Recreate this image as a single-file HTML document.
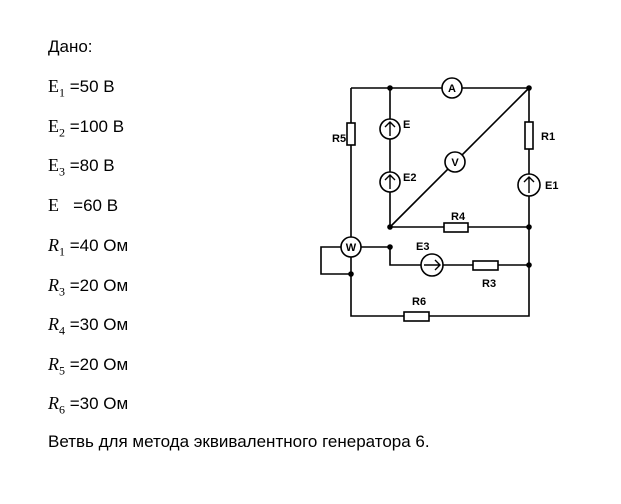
<!DOCTYPE html>
<html><head><meta charset="utf-8"><style>
body{margin:0;width:621px;height:504px;background:#fff;position:relative;font-family:"Liberation Sans",sans-serif;font-size:17px;color:#000}
.t{position:absolute;left:48px;white-space:nowrap}
.m{font-family:"Liberation Serif",serif;font-size:18px}
sub{font-size:12px;font-family:"Liberation Serif",serif}
</style></head><body>
<div class="t" style="top:37px">Дано:</div>
<div class="t" style="top:76px"><span class="m">E</span><sub>1</sub> =50 В</div>
<div class="t" style="top:116px"><span class="m">E</span><sub>2</sub> =100 В</div>
<div class="t" style="top:155px"><span class="m">E</span><sub>3</sub> =80 В</div>
<div class="t" style="top:195px"><span class="m">E</span> &nbsp;&nbsp;=60 В</div>
<div class="t" style="top:235px"><span class="m"><i>R</i></span><sub>1</sub> =40 Ом</div>
<div class="t" style="top:275px"><span class="m"><i>R</i></span><sub>3</sub> =20 Ом</div>
<div class="t" style="top:314px"><span class="m"><i>R</i></span><sub>4</sub> =30 Ом</div>
<div class="t" style="top:354px"><span class="m"><i>R</i></span><sub>5</sub> =20 Ом</div>
<div class="t" style="top:393px"><span class="m"><i>R</i></span><sub>6</sub> =30 Ом</div>
<div class="t" style="top:432px">Ветвь для метода эквивалентного генератора 6.</div>
<svg width="621" height="504" style="position:absolute;left:0;top:0" font-family="Liberation Sans,sans-serif" font-weight="bold" font-size="11">
<g stroke="#000" stroke-width="1.6" fill="none">
<path d="M351 88H529V316H351V237"/>
<path d="M351 88V237"/>
<path d="M390 88V227H529"/>
<path d="M390 227L529 88"/>
<path d="M361 247H390V265H529"/>
<path d="M341 247H321V274H351"/>
</g>
<g stroke="#000" stroke-width="1.6" fill="#fff">
<rect x="347" y="123" width="8" height="22"/>
<rect x="525" y="122" width="8" height="27"/>
<rect x="444" y="223" width="24" height="9"/>
<rect x="473" y="261" width="25" height="9"/>
<rect x="404" y="312" width="25" height="9"/>
<circle cx="452" cy="88" r="10"/>
<circle cx="455" cy="162" r="10"/>
<circle cx="390" cy="129" r="10"/>
<circle cx="390" cy="182" r="10"/>
<circle cx="529" cy="185" r="11"/>
<circle cx="351" cy="247" r="10"/>
<circle cx="432" cy="265" r="11"/>
</g>
<g stroke="#000" stroke-width="1.4" fill="none">
<path d="M390 136V122M385 127L390 122L395 127"/>
<path d="M390 189V175M385 180L390 175L395 180"/>
<path d="M529 193V177M524 182L529 177L534 182"/>
<path d="M424 265H440M435 260L440 265L435 270"/>
</g>
<g fill="#000">
<circle cx="390" cy="88" r="2.8"/><circle cx="529" cy="88" r="2.8"/>
<circle cx="390" cy="227" r="2.8"/><circle cx="529" cy="227" r="2.8"/>
<circle cx="390" cy="247" r="2.8"/><circle cx="529" cy="265" r="2.8"/>
<circle cx="351" cy="274" r="2.8"/>
<text x="452" y="92" text-anchor="middle">A</text>
<text x="455" y="166" text-anchor="middle">V</text>
<text x="351" y="251" text-anchor="middle">W</text>
<text x="332" y="142">R5</text>
<text x="403" y="128">E</text>
<text x="403" y="181">E2</text>
<text x="541" y="140">R1</text>
<text x="545" y="189">E1</text>
<text x="451" y="220">R4</text>
<text x="416" y="250">E3</text>
<text x="482" y="287">R3</text>
<text x="412" y="305">R6</text>
</g>
</svg>
</body></html>
